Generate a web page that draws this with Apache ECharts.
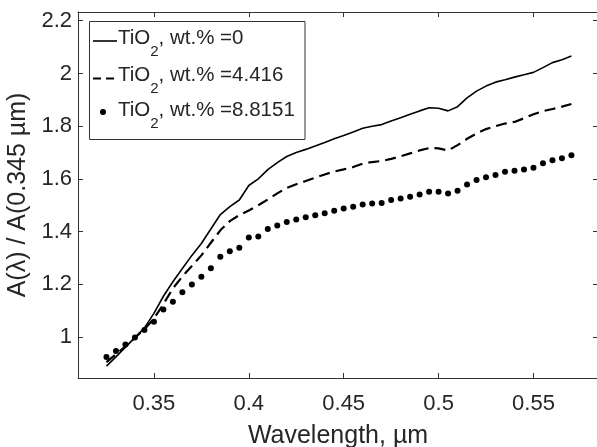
<!DOCTYPE html>
<html><head><meta charset="utf-8">
<script src="https://cdn.jsdelivr.net/npm/echarts@6/dist/echarts.min.js"></script>
<style>html,body{margin:0;padding:0;background:#fff}#c{width:597px;height:447px}</style>
</head><body><div id="c"></div>
<script>
const wavelength = [0.325,0.33,0.335,0.34,0.345,0.35,0.355,0.36,0.365,0.37,0.375,0.38,0.385,0.39,0.395,0.40,0.405,0.41,0.415,0.42,0.425,0.43,0.435,0.44,0.445,0.45,0.455,0.46,0.465,0.47,0.475,0.48,0.485,0.49,0.495,0.50,0.505,0.51,0.515,0.52,0.525,0.53,0.535,0.54,0.545,0.55,0.555,0.56,0.565,0.57];
const tio2_0 = [0.89,0.925,0.962,0.998,1.035,1.09,1.155,1.21,1.26,1.31,1.355,1.41,1.465,1.495,1.52,1.575,1.60,1.635,1.662,1.685,1.70,1.712,1.725,1.738,1.752,1.765,1.778,1.792,1.80,1.806,1.82,1.832,1.845,1.858,1.87,1.868,1.858,1.874,1.907,1.933,1.952,1.967,1.976,1.986,1.995,2.004,2.022,2.041,2.052,2.066];
const tio2_4416 = [0.905,0.935,0.965,0.998,1.03,1.07,1.125,1.185,1.23,1.27,1.31,1.358,1.405,1.44,1.463,1.48,1.50,1.522,1.545,1.566,1.58,1.592,1.605,1.617,1.628,1.636,1.645,1.658,1.664,1.668,1.676,1.686,1.697,1.708,1.717,1.716,1.708,1.728,1.752,1.772,1.789,1.80,1.81,1.816,1.83,1.845,1.857,1.865,1.874,1.884];
const tio2_88151 = [0.925,0.947,0.972,0.999,1.027,1.058,1.105,1.134,1.17,1.2,1.229,1.261,1.305,1.326,1.339,1.378,1.382,1.41,1.423,1.437,1.446,1.455,1.462,1.47,1.479,1.488,1.494,1.503,1.507,1.509,1.52,1.526,1.532,1.541,1.551,1.551,1.545,1.555,1.579,1.596,1.606,1.615,1.627,1.631,1.636,1.642,1.659,1.671,1.678,1.69];
const xTicks = [0.35,0.4,0.45,0.5,0.55];
const yTicks = [1,1.2,1.4,1.6,1.8,2,2.2];
const seriesNames = ['TiO2, wt.% =0','TiO2, wt.% =4.416','TiO2, wt.% =8.8151'];
const legendSuffix = [', wt.% =0', ', wt.% =4.416', ', wt.% =8.8151'];
const xTitle = 'Wavelength, µm';
const yTitle = 'A(λ) / A(0.345 µm)';

const FONT = 'Liberation Sans, Arial, Helvetica, sans-serif';
const TXT = '#262626';
const AX = '#333333';

function pairs(ys){ return wavelength.map((x,i)=>[x, ys[i]]); }

const chart = echarts.init(document.getElementById('c'), null, {renderer:'canvas'});

const axisCommon = {
  axisLine:{show:true,onZero:false,lineStyle:{color:AX,width:1}},
  splitLine:{show:false}
};

const legendRows = [39.5, 76.7, 111.7];
const rich = {
  m:{fontSize:20.5,lineHeight:24,verticalAlign:'top',fontFamily:FONT,fill:TXT},
  s:{fontSize:15,lineHeight:15,padding:[16.5,0,0,0],verticalAlign:'top',fontFamily:FONT,fill:TXT}
};
const legendGraphics = [
  {type:'rect',shape:{x:89.5,y:21.5,width:215.5,height:118},style:{fill:'#fff',stroke:AX,lineWidth:1},z:100},
  {type:'line',shape:{x1:93,y1:41,x2:117,y2:41},style:{stroke:'#000',lineWidth:1.6},z:101},
  {type:'line',shape:{x1:93,y1:78.5,x2:114,y2:78.5},style:{stroke:'#000',lineWidth:2.2,lineDash:[8,5]},z:101},
  {type:'circle',shape:{cx:103,cy:112,r:3},style:{fill:'#000'},z:101}
];
legendSuffix.forEach((suf,i)=>{
  legendGraphics.push({type:'text',x:118,y:legendRows[i]-12,z:101,
    style:{text:'{m|TiO}{s|2}{m|'+suf+'}',rich:rich,verticalAlign:'top',align:'left',fill:TXT,fontFamily:FONT,fontSize:20.5}});
});

chart.setOption({
  animation:false,
  backgroundColor:'#fff',
  grid:{left:78,top:12,width:520,height:366,containLabel:false,outerBoundsMode:'none'},
  xAxis:[
    Object.assign({type:'value',position:'bottom',min:0.31,max:0.584,
      axisTick:{show:true,inside:true,length:5,customValues:xTicks,lineStyle:{color:AX}},
      axisLabel:{show:true,customValues:xTicks,fontSize:22,margin:15,color:TXT,fontFamily:FONT},
      name:xTitle,nameLocation:'middle',nameGap:46,
      nameTextStyle:{fontSize:25,color:TXT,fontFamily:FONT}},axisCommon),
    Object.assign({type:'value',position:'top',min:0.31,max:0.584,
      axisTick:{show:true,inside:true,length:5,customValues:xTicks,lineStyle:{color:AX}},
      axisLabel:{show:false}},axisCommon)
  ],
  yAxis:[
    Object.assign({type:'value',position:'left',min:0.845,max:2.233,
      axisTick:{show:true,inside:true,length:5,customValues:yTicks,lineStyle:{color:AX}},
      axisLabel:{show:true,customValues:yTicks,fontSize:22,margin:6,color:TXT,fontFamily:FONT},
      name:yTitle,nameLocation:'middle',nameGap:43,nameRotate:90,
      nameTextStyle:{fontSize:25,color:TXT,fontFamily:FONT}},axisCommon),
    Object.assign({type:'value',position:'right',min:0.845,max:2.233,
      axisTick:{show:true,inside:true,length:5,customValues:yTicks,lineStyle:{color:AX}},
      axisLabel:{show:false}},axisCommon)
  ],
  series:[
    {name:seriesNames[0],type:'line',data:pairs(tio2_0),showSymbol:false,symbol:'none',
      lineStyle:{color:'#000',width:1.6},xAxisIndex:0,yAxisIndex:0},
    {name:seriesNames[1],type:'line',data:pairs(tio2_4416),showSymbol:false,symbol:'none',
      lineStyle:{color:'#000',width:2.2,type:[11,6]},xAxisIndex:0,yAxisIndex:0},
    {name:seriesNames[2],type:'scatter',data:pairs(tio2_88151),symbol:'circle',symbolSize:6,
      itemStyle:{color:'#000',opacity:1},xAxisIndex:0,yAxisIndex:0}
  ],
  graphic:legendGraphics
});
</script></body></html>
